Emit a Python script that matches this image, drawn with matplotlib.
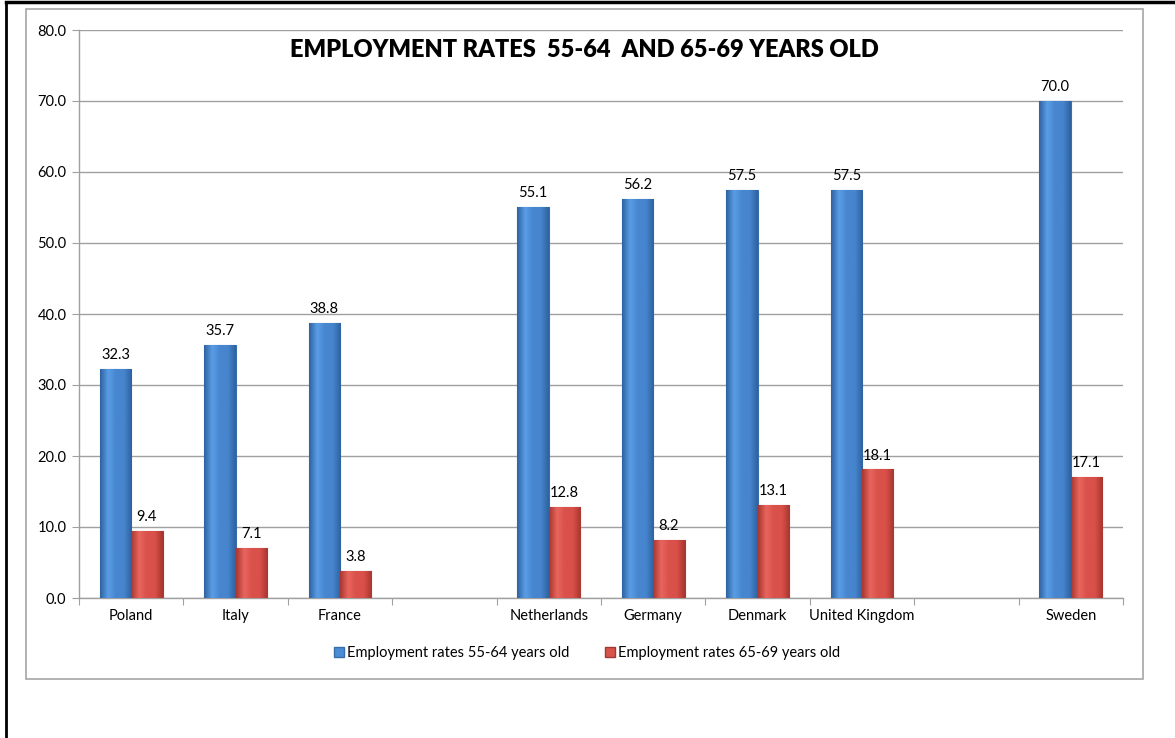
import numpy as np
import matplotlib
matplotlib.use("Agg")
from matplotlib import pyplot as plt
from matplotlib.colors import LinearSegmentedColormap
from matplotlib.patches import Rectangle
from matplotlib.lines import Line2D

plt.rcParams['font.family'] = ['Lato', 'DejaVu Sans']

countries = ["Poland", "Italy", "France", "", "Netherlands", "Germany",
             "Denmark", "United Kingdom", "", "Sweden"]
rate_55_64 = [32.3, 35.7, 38.8, np.nan, 55.1, 56.2, 57.5, 57.5, np.nan, 70.0]
rate_65_69 = [9.4, 7.1, 3.8, np.nan, 12.8, 8.2, 13.1, 18.1, np.nan, 17.1]
series_names = ["Employment rates 55-64 years old", "Employment rates 65-69 years old"]
y_ticks = np.arange(0, 81, 10)


def shade(ax, bars, dark, mid, light):
    # fake the excel bevel: horizontal gradient clipped to each bar
    cmap = LinearSegmentedColormap.from_list("g", [dark, light, mid, mid, dark])
    grad = np.linspace(0, 1, 64).reshape(1, -1)
    for b in bars:
        h = b.get_height()
        if not np.isfinite(h) or h <= 0:
            continue
        x0, w = b.get_x(), b.get_width()
        im = ax.imshow(grad, cmap=cmap, aspect="auto", zorder=3,
                       extent=(x0, x0 + w, 0, h), interpolation="bicubic")
        im.set_clip_path(b)


fig = plt.figure(figsize=(11.75, 7.38), dpi=100)

# outer black frame (left + top only visible) and grey chart frame
fig.add_artist(Line2D([6 / 1175, 6 / 1175], [0, 1 - 2 / 738],
                      transform=fig.transFigure, color="black", linewidth=2))
fig.add_artist(Line2D([6 / 1175, 1], [1 - 2 / 738, 1 - 2 / 738],
                      transform=fig.transFigure, color="black", linewidth=2.5))
fig.patches.append(Rectangle((26 / 1175, 1 - 679 / 738), 1117 / 1175, 670 / 738,
                             transform=fig.transFigure, fill=False,
                             edgecolor="#a6a6a6", linewidth=1.2))

ax = fig.add_axes([79 / 1175, 1 - 598 / 738, 1044 / 1175, 568 / 738])

x = np.arange(len(countries))
w = 0.3
b1 = ax.bar(x - w / 2, rate_55_64, w, color="#4a8cd6", edgecolor="#3a6ea8",
            linewidth=0.8, zorder=2, label=series_names[0])
b2 = ax.bar(x + w / 2, rate_65_69, w, color="#d9534c", edgecolor="#9e3a35",
            linewidth=0.8, zorder=2, label=series_names[1])
shade(ax, b1, "#2f62a0", "#4786cf", "#5a9ee6")
shade(ax, b2, "#a8362f", "#d9514a", "#e8665e")

for bars in (b1, b2):
    for b in bars:
        h = b.get_height()
        if np.isfinite(h):
            ax.annotate(f"{h:.1f}", (b.get_x() + b.get_width() / 2, h),
                        xytext=(0, 5), textcoords="offset points",
                        ha="center", va="bottom", fontsize=10.5, zorder=5)

ax.set_xlim(-0.5, len(countries) - 0.5)
ax.set_ylim(0, 80)
ax.set_yticks(y_ticks)
ax.set_yticklabels([f"{v:.1f}" for v in y_ticks], fontsize=10.5)
ax.set_xticks(np.arange(-0.5, len(countries)), minor=False)
ax.set_xticklabels([])
ax.set_xticks(x, minor=True)
ax.set_xticklabels(countries, minor=True, fontsize=10.5)
ax.tick_params(axis="x", which="major", length=5, color="#a0a0a0")
ax.tick_params(axis="x", which="minor", length=0, pad=8)
ax.tick_params(axis="y", length=5, color="#a0a0a0", pad=4)

ax.grid(axis="y", color="#a0a0a0", linewidth=1)
ax.set_axisbelow(True)
for s in ("top", "right"):
    ax.spines[s].set_visible(False)
for s in ("left", "bottom"):
    ax.spines[s].set_color("#a0a0a0")
    ax.spines[s].set_linewidth(1)

ax.text(0.484, 0.9525, "EMPLOYMENT RATES  55-64  AND 65-69 YEARS OLD",
        transform=ax.transAxes, ha="center", va="baseline", fontsize=17,
        fontweight="heavy")

handles = [Line2D([], [], marker="s", linestyle="", markersize=7,
                  markerfacecolor=c, markeredgecolor=e)
           for c, e in (("#4a8cd6", "#3a6ea8"), ("#d9534c", "#9e3a35"))]
fig.legend(handles, series_names, loc="center", ncol=2, frameon=False,
           fontsize=10.5, handlelength=0.7, handletextpad=0.2, columnspacing=2.5,
           bbox_to_anchor=(587 / 1175, 1 - 653 / 738))

fig.savefig("out.png", dpi=100)
